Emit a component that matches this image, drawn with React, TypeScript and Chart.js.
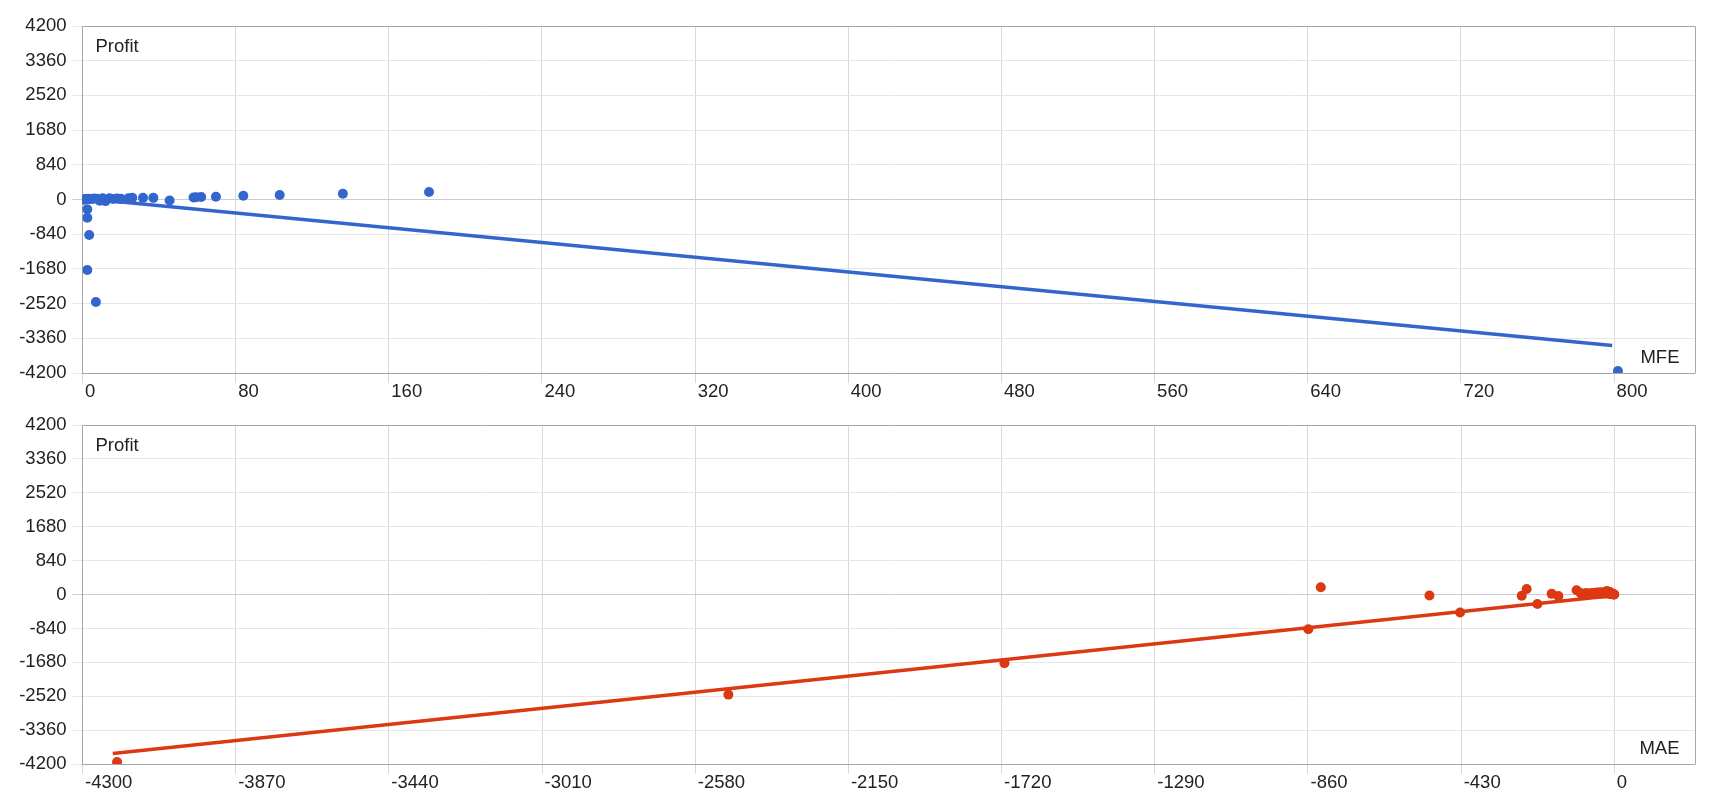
import React, { useEffect, useRef } from "react";
import { Chart, registerables } from "chart.js";

Chart.register(...registerables);

// Per-trade values (aligned arrays)
const mfe = [802, 7, 2.5, 3.5, 2.5, 2.5, 181, 45.5, 136, 9, 20, 12, 103, 84, 26, 31.6, 37, 59.4, 62, 69.7, 58, 1, 1.5, 2, 3, 4, 5, 6, 7.5, 10.5, 14, 16, 18, 20, 0.5, 1, 24];
const mae = [-4203, -2487, -1712, -859, -433, -216, -824, -519, -246, -260, -176, -157, -106, -21, -95, -80, -60, -40, -30, -12, -50, -5, -2, -10, -15, -8, -3, -20, -35, -12, -25, -45, -70, -90, 0, -1, -65];
const profit = [-4150, -2480, -1705, -860, -443, -235, 182, -24, 138, -30, 17, -39, 108, 90, 40, 40, 40, 55, 60, 65, 50, 5, 10, 12, 20, 15, 10, 25, 18, 30, 28, 15, 25, 10, 0, 2, 30];

// Trend line endpoints
const mfeTrend = [
  { x: 0, y: 30 },
  { x: 799, y: -3535 },
];
const maeTrend = [
  { x: -4215, y: -3940 },
  { x: 0, y: -22 },
];

// Tick values
const profitTicks = [-4200, -3360, -2520, -1680, -840, 0, 840, 1680, 2520, 3360, 4200];
const mfeTicks = [0, 80, 160, 240, 320, 400, 480, 560, 640, 720, 800];
const maeTicks = [-4300, -3870, -3440, -3010, -2580, -2150, -1720, -1290, -860, -430, 0];

const yTitle = "Profit";
const FONT = '"Liberation Sans", Arial, sans-serif';
const FONT_SIZE = 18.5;

type Cfg = {
  xs: number[];
  color: string;
  trend: { x: number; y: number }[];
  xTicks: number[];
  xMin: number;
  xMax: number;
  xTitle: string;
  topPad: number;
  xAxisHeight: number;
};

function makeChart(canvas: HTMLCanvasElement, c: Cfg) {
  const points = c.xs.map((x, i) => ({ x, y: profit[i] }));
  const framePlugin = {
    id: "frameTitles",
    beforeDatasetsDraw(chart: any) {
      const { ctx, chartArea } = chart;
      ctx.save();
      ctx.strokeStyle = "#a6a6a6";
      ctx.lineWidth = 1;
      ctx.beginPath();
      const l = Math.round(chartArea.left) + 0.5;
      const t = Math.round(chartArea.top) + 0.5;
      const r = Math.round(chartArea.right) + 0.5;
      const b = Math.round(chartArea.bottom) + 0.5;
      ctx.moveTo(l, t);
      ctx.lineTo(r, t);
      ctx.lineTo(r, b);
      ctx.stroke();
      ctx.restore();
    },
    afterDraw(chart: any) {
      const { ctx, chartArea } = chart;
      ctx.save();
      ctx.fillStyle = "#222";
      ctx.font = `${FONT_SIZE}px ${FONT}`;
      ctx.textBaseline = "alphabetic";
      ctx.textAlign = "left";
      ctx.fillText(yTitle, chartArea.left + 13, chartArea.top + 26);
      ctx.textAlign = "right";
      ctx.fillText(c.xTitle, chartArea.right - 15, chartArea.bottom - 10);
      ctx.restore();
    },
  };

  return new Chart(canvas, {
    type: "scatter",
    data: {
      datasets: [
        {
          type: "scatter",
          data: points,
          backgroundColor: c.color,
          borderColor: c.color,
          pointRadius: 5,
          pointHoverRadius: 5,
          borderWidth: 0,
          order: 0,
        } as any,
        {
          type: "line",
          data: c.trend,
          borderColor: c.color,
          borderWidth: 3.5,
          pointRadius: 0,
          fill: false,
          order: 1,
        } as any,
      ],
    },
    options: {
      responsive: false,
      animation: false,
      layout: { padding: { top: c.topPad, right: 17.5, left: 0, bottom: 0 } },
      plugins: { legend: { display: false }, tooltip: { enabled: false } },
      scales: {
        x: {
          type: "linear",
          min: c.xMin,
          max: c.xMax,
          afterBuildTicks: (scale: any) => {
            scale.ticks = c.xTicks.map((v) => ({ value: v }));
          },
          afterFit: (scale: any) => {
            scale.height = c.xAxisHeight;
          },
          grid: { color: "#d9d9d9", tickLength: 10, drawTicks: true },
          border: { color: "#a6a6a6" },
          ticks: {
            align: "start",
            labelOffset: 2.5,
            padding: -2,
            color: "#222",
            font: { family: FONT, size: FONT_SIZE },
            maxRotation: 0,
            autoSkip: false,
            callback: (v: any) => String(v),
          },
        },
        y: {
          type: "linear",
          min: -4200,
          max: 4200,
          afterBuildTicks: (scale: any) => {
            scale.ticks = profitTicks.map((v) => ({ value: v }));
          },
          afterFit: (scale: any) => {
            scale.width = 74.5;
          },
          grid: {
            color: (ctx: any) => (ctx.tick && ctx.tick.value === 0 ? "#cccccc" : "#e6e6e6"),
            tickLength: 10,
            drawTicks: true,
          },
          border: { color: "#a6a6a6" },
          ticks: {
            padding: 6,
            color: "#222",
            font: { family: FONT, size: FONT_SIZE },
            autoSkip: false,
            callback: (v: any) => String(v),
          },
        },
      },
    },
    plugins: [framePlugin],
  } as any);
}

function ChartBox(props: Cfg & { height: number }) {
  const ref = useRef<HTMLCanvasElement>(null);
  useEffect(() => {
    if (!ref.current) return;
    const ch = makeChart(ref.current, props);
    return () => ch.destroy();
  }, []);
  return <canvas ref={ref} width={1704} height={props.height} style={{ display: "block", width: 1704, height: props.height }} />;
}

export default function App() {
  return (
    <div style={{ width: 1704 }}>
      <ChartBox
        xs={mfe}
        color="#3366cc"
        trend={mfeTrend}
        xTicks={mfeTicks}
        xMin={0}
        xMax={842}
        xTitle="MFE"
        topPad={18}
        xAxisHeight={35}
        height={400}
      />
      <ChartBox
        xs={mae}
        color="#dc3912"
        trend={maeTrend}
        xTicks={maeTicks}
        xMin={-4300}
        xMax={225}
        xTitle="MAE"
        topPad={9.3}
        xAxisHeight={28}
        height={384}
      />
    </div>
  );
}
